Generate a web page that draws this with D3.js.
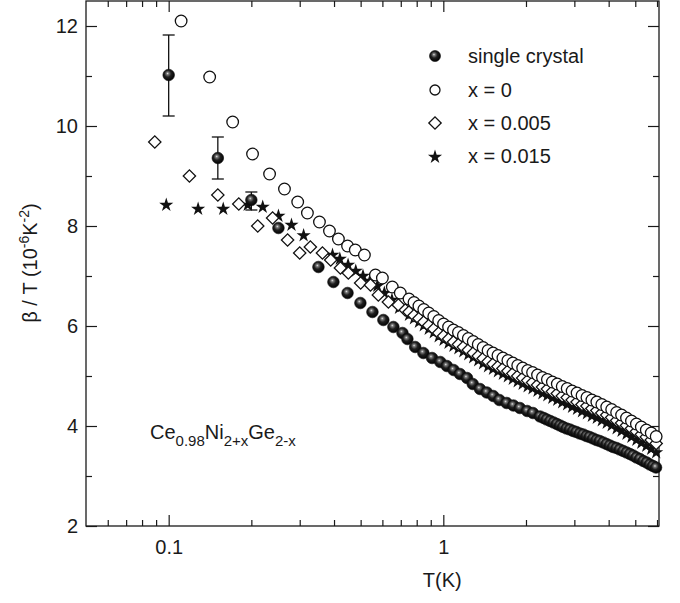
<!DOCTYPE html>
<html>
<head>
<meta charset="utf-8">
<script src="https://cdn.jsdelivr.net/npm/d3@7"></script>
<style>
  body { margin: 0; background: #fff; }
  text { font-family: "Liberation Sans", Arial, sans-serif; fill: #1a1a1a; }
</style>
</head>
<body>
<svg id="chart" width="680" height="603"></svg>
<script>
// ---- data ----
const crystal = [
  [0.1, 11.02], [0.151, 9.36], [0.2, 8.52], [0.251, 7.96], [0.351, 7.18], [0.398, 6.88],
  [0.448, 6.66], [0.499, 6.46], [0.552, 6.28], [0.605, 6.12], [0.658, 5.98], [0.71, 5.86],
  [0.74, 5.74], [0.79, 5.58], [0.846, 5.46], [0.91, 5.36], [0.975, 5.28], [1.03, 5.2],
  [1.09, 5.12], [1.15, 5.04], [1.22, 4.96], [1.28, 4.84], [1.36, 4.74], [1.44, 4.67],
  [1.52, 4.6], [1.6, 4.52], [1.7, 4.46], [1.8, 4.41], [1.9, 4.36], [2.02, 4.3], [2.12, 4.26],
  [2.25, 4.19], [2.32, 4.16], [2.38, 4.13], [2.45, 4.1], [2.52, 4.07], [2.59, 4.04],
  [2.66, 4.01], [2.73, 3.98], [2.81, 3.95], [2.89, 3.93], [2.97, 3.9], [3.05, 3.88],
  [3.14, 3.85], [3.23, 3.83], [3.32, 3.8], [3.41, 3.78], [3.51, 3.75], [3.61, 3.72],
  [3.71, 3.7], [3.82, 3.67], [3.93, 3.64], [4.04, 3.61], [4.15, 3.58], [4.27, 3.56],
  [4.39, 3.53], [4.52, 3.5], [4.65, 3.47], [4.78, 3.44], [4.91, 3.41], [5.05, 3.37],
  [5.2, 3.34], [5.35, 3.3], [5.5, 3.27], [5.65, 3.23], [5.8, 3.2], [5.95, 3.17]
];
// error bars [T, low, high]
const crystalErr = [[0.1, 10.2, 11.82], [0.151, 8.94, 9.78], [0.2, 8.32, 8.68]];

// temperatures of the dense runs of the polycrystals
const gridT = [
  0.75, 0.782, 0.815, 0.849, 0.885, 0.923, 0.962, 1.002, 1.045, 1.089, 1.135, 1.183, 1.233,
  1.285, 1.34, 1.396, 1.455, 1.517, 1.581, 1.648, 1.718, 1.791, 1.866, 1.945, 2.028, 2.113,
  2.203, 2.296, 2.393, 2.495, 2.6, 2.71, 2.825, 2.944, 3.069, 3.199, 3.334, 3.475, 3.622,
  3.776, 3.936, 4.102, 4.276, 4.457, 4.645, 4.842, 5.047, 5.26, 5.483, 5.715, 5.957
];

const x0Low = [
  [0.111, 12.1], [0.141, 10.98], [0.171, 10.08], [0.202, 9.44], [0.233, 9.04], [0.264, 8.74],
  [0.295, 8.48], [0.32, 8.26], [0.354, 8.08], [0.385, 7.9], [0.415, 7.74], [0.448, 7.6],
  [0.478, 7.52], [0.516, 7.42], [0.566, 7.02], [0.6, 6.96], [0.652, 6.78], [0.697, 6.66]
];
const x0Grid = [
  6.54, 6.47, 6.4, 6.33, 6.26, 6.19, 6.11, 6.04, 5.98, 5.92, 5.87, 5.81, 5.75, 5.69, 5.63,
  5.57, 5.51, 5.46, 5.41, 5.36, 5.31, 5.26, 5.21, 5.16, 5.11, 5.07, 5.02, 4.97, 4.93, 4.88,
  4.84, 4.79, 4.75, 4.7, 4.66, 4.61, 4.57, 4.52, 4.48, 4.43, 4.38, 4.33, 4.27, 4.22, 4.16,
  4.1, 4.04, 3.98, 3.92, 3.86, 3.79
];

const x005Low = [
  [0.089, 9.68], [0.119, 9.0], [0.151, 8.62], [0.18, 8.44], [0.211, 8.0], [0.239, 8.16],
  [0.271, 7.72], [0.3, 7.46], [0.328, 7.58], [0.363, 7.46], [0.389, 7.32], [0.422, 7.16],
  [0.451, 7.06], [0.5, 6.86], [0.543, 6.82], [0.58, 6.62], [0.631, 6.48], [0.686, 6.42],
  [0.727, 6.32]
];
const x005Grid = [
  6.28, 6.21, 6.15, 6.08, 6.01, 5.94, 5.86, 5.8, 5.74, 5.68, 5.63, 5.58, 5.52, 5.46, 5.4,
  5.35, 5.29, 5.24, 5.19, 5.15, 5.1, 5.05, 5.0, 4.96, 4.91, 4.87, 4.82, 4.78, 4.74, 4.69,
  4.65, 4.6, 4.57, 4.52, 4.48, 4.43, 4.4, 4.35, 4.31, 4.26, 4.22, 4.17, 4.11, 4.06, 4.01,
  3.95, 3.89, 3.83, 3.78, 3.72, 3.65
];

const x015Low = [
  [0.098, 8.44], [0.128, 8.36], [0.158, 8.36], [0.194, 8.44], [0.22, 8.4], [0.251, 8.22],
  [0.28, 8.04], [0.31, 7.83], [0.395, 7.44], [0.42, 7.36], [0.45, 7.24], [0.48, 7.12],
  [0.51, 7.02], [0.54, 6.92], [0.575, 6.82], [0.61, 6.68], [0.65, 6.54], [0.69, 6.38]
];
const x015Grid = [
  6.24, 6.17, 6.1, 6.03, 5.96, 5.89, 5.81, 5.74, 5.68, 5.62, 5.57, 5.51, 5.45, 5.39, 5.33,
  5.27, 5.21, 5.16, 5.11, 5.06, 5.01, 4.96, 4.91, 4.86, 4.81, 4.77, 4.72, 4.67, 4.63, 4.58,
  4.54, 4.49, 4.45, 4.4, 4.36, 4.31, 4.27, 4.22, 4.18, 4.13, 4.08, 4.03, 3.97, 3.92, 3.86,
  3.8, 3.74, 3.68, 3.62, 3.56, 3.49
];

const xMajor = [0.1, 1];
const xMinor = [0.06, 0.07, 0.08, 0.09, 0.2, 0.3, 0.4, 0.5, 0.6, 0.7, 0.8, 0.9, 2, 3, 4, 5, 6];
const yMajor = [2, 4, 6, 8, 10, 12];
const yMinor = [3, 5, 7, 9, 11];

const legendItems = ["single crystal", "x = 0", "x = 0.005", "x = 0.015"];

// ---- layout ----
const W = 680, H = 603;
const margin = { top: 1, right: 21, bottom: 77, left: 86 };
const iw = W - margin.left - margin.right;
const ih = H - margin.top - margin.bottom;

const svg = d3.select("#chart");
const g = svg.append("g").attr("transform", `translate(${margin.left},${margin.top})`);

const x = d3.scaleLog().domain([0.05, 6.1]).range([0, iw]);
const y = d3.scaleLinear().domain([2, 12.5]).range([ih, 0]);

// sphere gradient
const defs = svg.append("defs");
const grad = defs.append("radialGradient").attr("id", "ball")
  .attr("cx", "45%").attr("cy", "42%").attr("r", "58%")
  .attr("fx", "40%").attr("fy", "36%");
grad.append("stop").attr("offset", "0%").attr("stop-color", "#e6e6e6");
grad.append("stop").attr("offset", "18%").attr("stop-color", "#7a7a7a");
grad.append("stop").attr("offset", "50%").attr("stop-color", "#202020");
grad.append("stop").attr("offset", "100%").attr("stop-color", "#000");

/**
 * AXES (ticks inward on all four sides)
 */
function addAxis(axisFn, scale, values, size, transform, fmt) {
  const a = g.append("g").attr("transform", transform)
    .call(axisFn(scale).tickValues(values).tickSize(size).tickFormat(fmt));
  a.select(".domain").remove();
  a.selectAll("line").attr("stroke", "#1a1a1a").attr("stroke-width", 1.2);
  return a;
}
const none = () => "";

const bx = addAxis(d3.axisBottom, x, xMajor, -11, `translate(0,${ih})`, d => d === 1 ? "1" : "0.1");
bx.call(a => a.selectAll("text").attr("font-size", 20).attr("dy", "0.71em")
  .attr("y", 14).attr("fill", "#1a1a1a"));
addAxis(d3.axisBottom, x, xMinor, -6, `translate(0,${ih})`, none);
addAxis(d3.axisTop, x, xMajor, -11, "translate(0,0)", none);
addAxis(d3.axisTop, x, xMinor, -6, "translate(0,0)", none);

const ly = addAxis(d3.axisLeft, y, yMajor, -11, "translate(0,0)", d3.format("d"));
ly.call(a => a.selectAll("text").attr("font-size", 20).attr("x", -8).attr("fill", "#1a1a1a"));
addAxis(d3.axisLeft, y, yMinor, -6, "translate(0,0)", none);
addAxis(d3.axisRight, y, yMajor, -11, `translate(${iw},0)`, none);
addAxis(d3.axisRight, y, yMinor, -6, `translate(${iw},0)`, none);

g.append("rect").attr("width", iw).attr("height", ih)
  .attr("fill", "none").attr("stroke", "#1a1a1a").attr("stroke-width", 1.3);

// axis titles
svg.append("text").attr("x", margin.left + x(1) - 1).attr("y", 587)
  .attr("text-anchor", "middle").attr("font-size", 20).text("T(K)");

const yl = svg.append("text").attr("transform", "translate(37,263) rotate(-90)")
  .attr("text-anchor", "middle").attr("font-size", 20);
yl.append("tspan").text("β / T (10");
yl.append("tspan").attr("font-size", 14).attr("dy", -8).text("-6");
yl.append("tspan").attr("dy", 8).text("K");
yl.append("tspan").attr("font-size", 14).attr("dy", -8).text("-2");
yl.append("tspan").attr("dy", 8).text(")");

/**
 * MARKERS
 */
const diamondPath = d3.symbol(d3.symbolSquare, 76)();
const starPath = d3.symbol(d3.symbolStar, 62)();

function drawCircles(layer, pts) {
  layer.selectAll("circle").data(pts).join("circle")
    .attr("cx", d => x(d[0])).attr("cy", d => y(d[1])).attr("r", 5.8)
    .attr("fill", "#fff").attr("stroke", "#111").attr("stroke-width", 1.3);
}
function drawDiamonds(layer, pts) {
  layer.selectAll("path").data(pts).join("path")
    .attr("d", diamondPath)
    .attr("transform", d => `translate(${x(d[0])},${y(d[1])}) rotate(45)`)
    .attr("fill", "#fff").attr("stroke", "#111").attr("stroke-width", 1.3);
}
function drawStars(layer, pts) {
  layer.selectAll("path").data(pts).join("path")
    .attr("d", starPath)
    .attr("transform", d => `translate(${x(d[0])},${y(d[1]) + 1})`)
    .attr("fill", "#111");
}
function drawBalls(layer, pts) {
  layer.selectAll("circle").data(pts).join("circle")
    .attr("cx", d => x(d[0])).attr("cy", d => y(d[1])).attr("r", 5.8)
    .attr("fill", "url(#ball)").attr("stroke", "#0a0a0a").attr("stroke-width", 0.6);
}

const withGrid = (low, vals) => low.concat(gridT.map((t, i) => [t, vals[i]]));

const plot = g.append("g");
drawStars(plot.append("g"), withGrid(x015Low, x015Grid));
drawDiamonds(plot.append("g"), withGrid(x005Low, x005Grid));
drawCircles(plot.append("g"), withGrid(x0Low, x0Grid));

// error bars
const eb = plot.append("g").attr("stroke", "#111").attr("stroke-width", 1.3);
crystalErr.forEach(([t, lo, hi]) => {
  eb.append("line").attr("x1", x(t)).attr("x2", x(t)).attr("y1", y(lo)).attr("y2", y(hi));
  eb.append("line").attr("x1", x(t) - 6).attr("x2", x(t) + 6).attr("y1", y(lo)).attr("y2", y(lo));
  eb.append("line").attr("x1", x(t) - 6).attr("x2", x(t) + 6).attr("y1", y(hi)).attr("y2", y(hi));
});
drawBalls(plot.append("g"), crystal);

/**
 * LEGEND
 */
const legRows = [56, 90, 123, 156];
const leg = svg.append("g");
legendItems.forEach((name, i) => {
  const cy = legRows[i], cx = 435;
  if (i === 0) {
    leg.append("circle").attr("cx", cx).attr("cy", cy).attr("r", 5.5)
      .attr("fill", "url(#ball)").attr("stroke", "#0a0a0a").attr("stroke-width", 0.6);
  } else if (i === 1) {
    leg.append("circle").attr("cx", cx).attr("cy", cy).attr("r", 5)
      .attr("fill", "#fff").attr("stroke", "#111").attr("stroke-width", 1.3);
  } else if (i === 2) {
    leg.append("path").attr("d", diamondPath)
      .attr("transform", `translate(${cx},${cy}) rotate(45)`)
      .attr("fill", "#fff").attr("stroke", "#111").attr("stroke-width", 1.3);
  } else {
    leg.append("path").attr("d", starPath)
      .attr("transform", `translate(${cx},${cy + 1})`).attr("fill", "#111");
  }
  leg.append("text").attr("x", 468).attr("y", cy + 7).attr("font-size", 20).text(name);
});

// compound label
const cmp = svg.append("text").attr("x", 150).attr("y", 439).attr("font-size", 20);
[["Ce", false], ["0.98", true], ["Ni", false], ["2+x", true], ["Ge", false], ["2-x", true]]
  .forEach(([s, sub], i) => {
    const dy = i === 0 ? 0 : (sub ? 7 : -7);
    cmp.append("tspan").attr("dy", dy).attr("font-size", sub ? 15 : 20).text(s);
  });
</script>
</body>
</html>
